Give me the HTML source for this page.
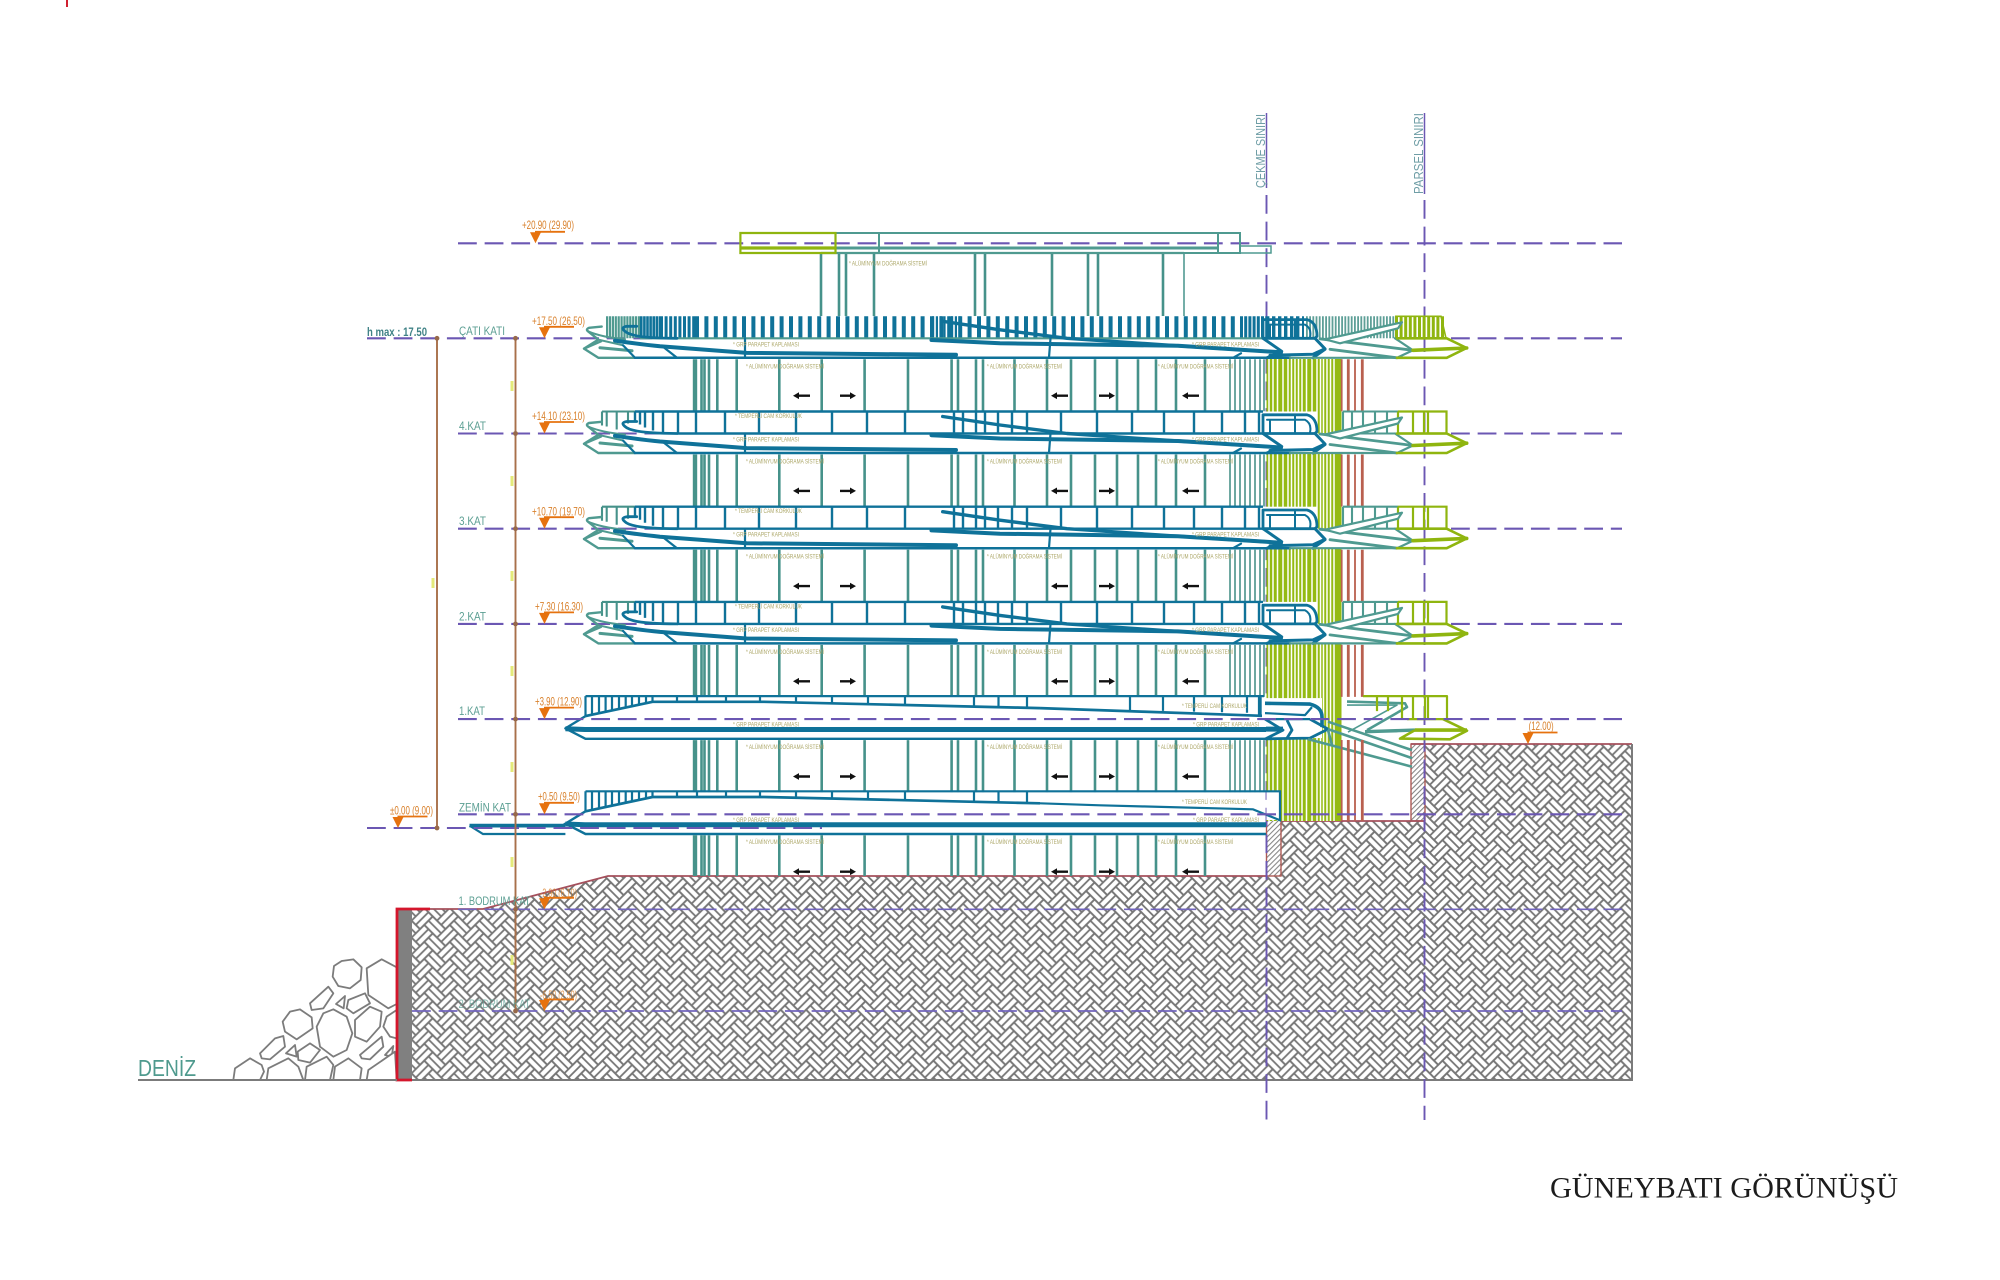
<!DOCTYPE html>
<html lang="tr">
<head>
<meta charset="utf-8">
<title>GÜNEYBATI GÖRÜNÜŞÜ</title>
<style>
html,body{margin:0;padding:0;background:#fff}
svg{display:block;filter:blur(.3px)}
text{font-family:"Liberation Sans",sans-serif}
.ttl{font-family:"Liberation Serif",serif;font-size:30px;fill:#1c1c1c}
.lv{font-size:12px;fill:#d9812c}
.fl{font-size:12px;fill:#5c9f93}
.nt{font-size:6px;fill:#aca768}
.dl{fill:none;stroke:#6b57b3;stroke-width:2.1;stroke-dasharray:18.8 7.84}
.dg{fill:none;stroke:#7265bd;stroke-width:1.7;stroke-dasharray:18.8 7.84}
</style>
</head>
<body>
<svg xmlns="http://www.w3.org/2000/svg" width="2000" height="1280" viewBox="0 0 2000 1280">
<defs>
  <g id="brick"><path d="M0 0H15V10H0ZM0 5H15M15 -5H25V10H15ZM20 -5V10" fill="none" stroke="#767676" stroke-width="1.5"/></g>
  <g id="brow">
    <use href="#brick" x="-30" y="30"/><use href="#brick" x="-15" y="15"/><use href="#brick" x="0" y="0"/><use href="#brick" x="15" y="-15"/><use href="#brick" x="30" y="-30"/>
  </g>
  <pattern id="hb" patternUnits="userSpaceOnUse" width="21.213" height="14.142" patternTransform="scale(1.2)">
    <rect width="21.3" height="14.2" fill="#fff"/>
    <g transform="rotate(45)">
      <use href="#brow" x="-20" y="-20"/><use href="#brow" x="-10" y="-10"/><use href="#brow" x="0" y="0"/><use href="#brow" x="10" y="10"/><use href="#brow" x="20" y="20"/>
    </g>
  </pattern>
  <pattern id="wd" patternUnits="userSpaceOnUse" width="3.6" height="3.6" patternTransform="rotate(-45)">
    <rect width="3.6" height="3.6" fill="#fff"/><path d="M0 1H3.6" stroke="#7d7d7d" stroke-width="1"/>
  </pattern>
  <clipPath id="lastc"><rect x="600" y="834" width="625" height="42"/></clipPath>

  <g id="tri"><path d="M539 -11H550L544.5 0Z" fill="#e6720e"/><path d="M544 -11.5H574" stroke="#e6720e" stroke-width="1.8"/></g>

  <g id="bars">
    <path d="M695 21v52" stroke="#46928a" stroke-width="4.4"/>
    <path d="M701.5 21v52M704.5 21v52M709 21v52M717.3 21v52M736.7 21v52M779.3 21v52M821.7 21v52M864.6 21v52M908 21v52M951.6 21v52M958 21v52M976 21v52M983 21v52M1014.5 21v52M1047 21v52M1071 21v52M1095 21v52M1117 21v52M1138 21v52M1156 21v52M1176 21v52M1205 21v52" stroke="#46928a" stroke-width="2.6" fill="none"/>
    <path d="M1230 21v52M1235 21v52M1240 21v52M1245 21v52M1250 21v52M1255 21v52M1260 21v52M1264 21v52" stroke="#5e9f97" stroke-width="1.8"/>
    <g transform="translate(0,57.4)" fill="#111">
      <path d="M793 0l6-3.4v2.2h11v2.4h-11v2.2z"/><path d="M856 0l-6-3.4v2.2h-10v2.4h10v2.2z"/>
      <path d="M1051 0l6-3.4v2.2h11v2.4h-11v2.2z"/><path d="M1115 0l-6-3.4v2.2h-10v2.4h10v2.2z"/>
      <path d="M1182 0l6-3.4v2.2h11v2.4h-11v2.2z"/>
    </g>
  </g>
  <g id="red"><path d="M1341.7 21v52M1355 21v52" stroke="#b9604f" stroke-width="1.8"/><path d="M1348.3 21v52M1362.3 21v52" stroke="#b9604f" stroke-width="2.8"/></g>

  <g id="rail" fill="none">
    <rect x="1263" y="-22" width="54" height="22" fill="#fff"/>
    <path d="M602 -22H635M602 -22V-8M606.7 -22V-7M616.7 -22V-4M628 -22V-10" stroke="#46928a" stroke-width="2.1"/>
    <path d="M635 -22H1263M677 0H1263" stroke="#0f7299" stroke-width="2.4"/>
    <path d="M635 -22V-12M640 -22V-9M645 -22V-6M653 -22V-3M663 -22V-1M678 -22V0M696 -22V0M725 -22V0M759 -22V0M796 -22V0M832 -22V0M867 -22V0M905 -22V0M954 -22V0M963 -22V0M976 -22V0M985 -22V0M998 -22V0M1012 -22V0M1027 -22V0M1061 -22V0M1097 -22V0M1132 -22V0M1164 -22V0M1194 -22V0M1222 -22V0M1245 -22V0M1259 -22V0" stroke="#0f7299" stroke-width="2.4"/>
    <path d="M1343 -22H1398M1343 0H1398M1343 -22V0M1352 -22V0M1363 -22V0M1375 -22V0M1387 -22V0" stroke="#4f9a90" stroke-width="2.1"/>
    <path d="M1398 -22H1446.5V0H1398M1398 -22V0M1413 -22V0M1424 -22V0M1428 -22V0" stroke="#8fb50f" stroke-width="2.2"/>
  </g>

  <g id="slab" fill="none" stroke-linejoin="round" stroke-linecap="round">
    <rect x="1263" y="0" width="82" height="19.5" fill="#fff" stroke="none"/>
    <path d="M601.7 -11.7L589 -10.5Q585.5 -9 588 -7L598.3 1.3L584 10.3L598.3 19.5H635M584 10.3L601 3" stroke="#4f9a90" stroke-width="2.4"/>
    <path d="M600 9.5L632 12.5" stroke="#4f9a90" stroke-width="3"/>
    <path d="M598.3 1.3L623 7M588 -7Q602 -1 625 1" stroke="#4f9a90" stroke-width="2"/>
    <path d="M636.7 -12L627 -12Q620 -11 625 -7Q632 0 677 0" stroke="#0f7299" stroke-width="2.8"/>
    <path d="M615 2.3Q640 6 660 8L746.7 14.6L956 16.5" stroke="#0f7299" stroke-width="4"/>
    <path d="M623 7L635 19.5M663 8.5L677 19.5M745 0V19.5" stroke="#0f7299" stroke-width="2.2"/>
    <path d="M635 19.5H1290" stroke="#0f7299" stroke-width="2.5"/>
    <path d="M942.7 -17L1000 -8.5L1067 0L1178 7.5L1281 14" stroke="#0f7299" stroke-width="3.4"/>
    <path d="M931.5 1.7L1000 5L1178 7.5L1281 14" stroke="#0f7299" stroke-width="4"/>
    <path d="M1050.5 0L1049 19M1233 19.5L1241 15" stroke="#0f7299" stroke-width="2.2"/>
    <path d="M1263 -18.7H1307Q1317 -16 1317 -2L1315 0H1263V-18.7" stroke="#0f7299" stroke-width="2.8"/>
    <path d="M1267 -13.7H1305Q1312 -10 1310 -1M1270 -13.7V0M1295 -18.7V0" stroke="#0f7299" stroke-width="2"/>
    <path d="M1263 0L1281.7 13L1267 19.5M1315 0L1325 10.5L1313 16L1270 17M1313 19.5L1325 11" stroke="#0f7299" stroke-width="3"/>
    <path d="M1320 0.5L1413 12M1330 11L1397 19.5" stroke="#4f9a90" stroke-width="2.8"/>
    <path d="M1325 1L1402 -16L1398 -10L1340 5Z" stroke="#4f9a90" stroke-width="2.2" fill="#fff"/>
    <path d="M1395 0L1413 12L1397 19.5M1290 19.5H1397" stroke="#4f9a90" stroke-width="2.2"/>
    <path d="M1413 12L1466.7 9.7" stroke="#8fb50f" stroke-width="3.6"/>
    <path d="M1397 0H1446.7L1466.7 9.7L1446.7 19.5H1397" stroke="#8fb50f" stroke-width="2.6"/>
  </g>

  <g id="bigrail" fill="none" stroke="#0f7299" stroke-width="2.2">
    <path d="M585.5 -23H1264"/>
    <path d="M585.5 -23V-3M592 -23V-4.4M599 -23V-5.9M605.6 -23V-7.3M612 -23V-8.7M619 -23V-10.1M625.7 -23V-11.6M632 -23V-12.9M639 -23V-14.4M646 -23V-15.9M652.5 -23V-17M677 -23V-17M697 -23V-17M726 -23V-17M760 -23V-17M796 -23V-16.6M832 -23V-15.8M868 -23V-15M905 -23V-14.2M974 -23V-12.6M998.5 -23V-12M1027 -23V-11.4"/>
    <path d="M585.5 -3L652.5 -17.3H764L1040 -11" stroke-width="2.7"/>
    <path d="M585.5 -3L565.4 9.3L585.5 19.7H1266" stroke-width="2.4"/>
    <path d="M565.4 9.7L585 10.4H1266" stroke-width="5"/>
  </g>
</defs>

<rect width="2000" height="1280" fill="#fff"/>
<path d="M67 0V7" stroke="#d02030" stroke-width="2"/>

<!-- rocks -->
<g transform="translate(120,880) scale(.33333)" fill="#fff" stroke="#7c7c7c" stroke-width="5.4" stroke-linejoin="round">
  <path d="M665 243L700 238L725 262L722 300L690 325L655 318L638 290L642 258Z"/>
  <path d="M740 265L785 238L830 262V372L805 385L745 345Z"/>
  <path d="M570 370L625 320L640 340L610 385L575 390Z"/>
  <path d="M648 372L675 348L671 385Z"/>
  <path d="M685 360L735 340L750 370L700 400L680 385Z"/>
  <path d="M510 395L540 388L575 412L578 445L530 478L495 455L488 425Z"/>
  <path d="M640 388L680 410L697 460L680 510L640 530L600 500L590 440L610 400Z"/>
  <path d="M705 420L750 380L785 395L780 440L740 485L705 470Z"/>
  <path d="M830 390L800 410L790 440L810 470L830 475"/>
  <path d="M420 520L465 475L490 468L495 500L450 538L425 535Z"/>
  <path d="M498 520L525 495L530 530Z"/>
  <path d="M533 515L570 490L600 510L570 548L535 540Z"/>
  <path d="M720 525L785 470L790 500L750 538L725 535Z"/>
  <path d="M795 525L820 498L815 530Z"/>
  <path d="M340 600L345 565L390 535L425 555L432 575L420 600"/>
  <path d="M440 600L445 565L505 535L535 560L550 600"/>
  <path d="M555 600L560 560L620 530L640 555L630 600"/>
  <path d="M640 600L645 560L685 535L725 565L720 600"/>
  <path d="M740 600L745 570L825 515L830 600"/>
</g>

<!-- ground -->
<path d="M412 909H483L608 876H1281V821H1425V744H1632V1080H412Z" fill="url(#hb)"/>
<rect x="1266.5" y="820" width="14.5" height="56" fill="url(#wd)" stroke="#ad5a55" stroke-width="1.4"/>
<rect x="1411" y="744" width="14" height="77" fill="url(#wd)" stroke="#ad5a55" stroke-width="1.4"/>
<path d="M430 909H483L608 876H1266M1281 821H1425M1411 744H1632" fill="none" stroke="#a5505c" stroke-width="1.8"/>
<rect x="398" y="909" width="14" height="171" fill="#808080"/>
<path d="M412 1080H397V909H430" fill="none" stroke="#d4162c" stroke-width="2.8"/>
<path d="M138 1080H397M412 1080H1632V744" fill="none" stroke="#7b7b7b" stroke-width="2"/>

<!-- dashed grid (behind) -->
<path class="dl" d="M458 243.3H1622"/>
<path class="dl" d="M367 338.3H670"/>
<path class="dl" d="M1451 338.3H1622"/>
<path class="dl" d="M458 433.5H670"/>
<path class="dl" d="M1451 433.5H1622"/>
<path class="dl" d="M458 528.7H670"/>
<path class="dl" d="M1451 528.7H1622"/>
<path class="dl" d="M458 623.9H670"/>
<path class="dl" d="M1451 623.9H1622"/>
<path d="M1266.5 113V188" stroke="#6b57b3" stroke-width="1.5" fill="none"/>
<path d="M1424.5 113V194" stroke="#6b57b3" stroke-width="1.5" fill="none"/>
<path d="M1266.5 195V1120" fill="none" stroke="#6b57b3" stroke-width="1.9" stroke-dasharray="18.8 7.84"/>
<path d="M1424.5 200V1120" fill="none" stroke="#6b57b3" stroke-width="1.9" stroke-dasharray="18.8 7.84"/>

<!-- lime strip -->
<rect x="1266.5" y="359" width="75" height="462" fill="#94ba12"/>
<path d="M1269 359V821M1273 359V821M1277.5 359V821M1283 359V821M1288 359V821M1291.5 359V821M1295 359V821M1298.5 359V821M1302 359V821M1306.5 359V821M1312 359V821M1317 359V821M1320.5 359V821M1323.5 359V821M1327 359V821M1330.5 359V821M1334 359V821" stroke="#fff" stroke-width="1.5"/>
<rect x="1266.5" y="791" width="14.5" height="29" fill="#fff"/>

<!-- penthouse / roof -->
<g fill="none">
  <path d="M821 253V316M839 253V316M846 253V316M874 253V316M975 253V316M985 253V316M1052 253V316M1088 253V316M1098 253V316M1163 253V316" stroke="#46928a" stroke-width="2.6"/>
  <path d="M1184 253V316" stroke="#46928a" stroke-width="1.5"/>
  <path d="M821 253H1184" stroke="#46928a" stroke-width="2.2"/>
  <path d="M835.5 233H1240V253H835.5M879 233V253M1218 233V253" stroke="#4f9a90" stroke-width="2"/>
  <path d="M835.5 248H1218" stroke="#4f9a90" stroke-width="3"/>
  <path d="M1240 246H1271V253H1240" stroke="#4f9a90" stroke-width="1.5"/>
  <path d="M740.4 233H835.5V253H740.4Z" stroke="#8fb50f" stroke-width="2.2"/>
  <path d="M740.4 248H835.5" stroke="#8fb50f" stroke-width="3.2"/>
</g>

<!-- çatı railing -->
<g transform="translate(0,338.3)" fill="none">
  <path d="M606 -11H640" stroke="#4f9a90" stroke-width="22" stroke-dasharray="2.2 .7"/>
  <path d="M640 -11H660" stroke="#0f7299" stroke-width="22" stroke-dasharray="2.6 .5"/>
  <path d="M660 -11H695" stroke="#0f7299" stroke-width="22" stroke-dasharray="3 1.6"/>
  <path d="M695 -11H1240" stroke="#0f7299" stroke-width="22" stroke-dasharray="4 5.4"/>
  <path d="M932 -11H962" stroke="#0f7299" stroke-width="22" stroke-dasharray="2.2 1.6"/>
  <path d="M1240 -11H1266" stroke="#0f7299" stroke-width="22" stroke-dasharray="3 1.2"/>
  <path d="M1266 -11H1304" stroke="#0f7299" stroke-width="22" stroke-dasharray="3.4 2.6"/>
  <path d="M1306 -11H1395" stroke="#5e9f97" stroke-width="22" stroke-dasharray="1.8 1.4"/>
  <path d="M1395 -11H1444" stroke="#8fb50f" stroke-width="22" stroke-dasharray="3 1.6"/>
  <path d="M1395 -22H1441L1446 0" stroke="#8fb50f" stroke-width="1.6"/>
  <path d="M640 0H1263" stroke="#4f9a90" stroke-width="2.2"/>
</g>
<use href="#slab" y="338.3"/>

<!-- floors -->
<use href="#bars" y="338.3"/><use href="#red" y="338.3"/>
<use href="#rail" y="433.5"/><use href="#slab" y="433.5"/>
<use href="#bars" y="433.5"/><use href="#red" y="433.5"/>
<use href="#rail" y="528.7"/><use href="#slab" y="528.7"/>
<use href="#bars" y="528.7"/><use href="#red" y="528.7"/>
<use href="#rail" y="623.9"/><use href="#slab" y="623.9"/>
<use href="#bars" y="623.9"/><use href="#red" y="623.9"/>

<!-- 1.KAT -->
<g transform="translate(0,719.1)" fill="none" stroke-linejoin="round">
  <rect x="1264" y="-21" width="58" height="40" fill="#fff"/>
  <use href="#bigrail"/>
  <path d="M1130 -23V-9M1163 -23V-8.2M1194 -23V-7.5M1222 -23V-6.9M1247 -23V-6.3M1259 -23V-4" stroke="#0f7299" stroke-width="2.2"/>
  <path d="M1040 -11L1262 -3.3" stroke="#0f7299" stroke-width="2.7"/>
  <path d="M1266 10H1283" stroke="#0f7299" stroke-width="5"/>
  <path d="M1260 -22V-2" stroke="#0f7299" stroke-width="3.4"/>
  <path d="M1265 -15.8L1310 -15Q1322 -12 1322 -2V8" stroke="#0f7299" stroke-width="3.6"/>
  <path d="M1265 -6L1305 -4L1312 -12M1265 0H1310" stroke="#0f7299" stroke-width="2.2"/>
  <path d="M1265 0L1283 11L1265 20M1287 1L1292 11L1287 19M1310 0L1328 10L1310 19L1266 19.7" stroke="#0f7299" stroke-width="2.8"/>
  <path d="M1328 2.6L1412 31M1328 10L1412 39M1308 20L1412 47.6M1328 11L1332 26" stroke="#4f9a90" stroke-width="2.6"/>
  <path d="M1347 -17.5L1405 -15.8L1407 -12L1367 11" stroke="#4f9a90" stroke-width="2.6"/>
  <path d="M1347 -14H1397L1348 13" stroke="#4f9a90" stroke-width="1.6"/>
  <path d="M1365 12.6L1415 11" stroke="#4f9a90" stroke-width="3.4"/>
  <path d="M1363 -23H1447V0H1407M1377 -23V-8M1388 -23V-8M1402 -23V0M1413 -23V0M1425 -23V0M1428 -23V0" stroke="#8fb50f" stroke-width="2.2"/>
  <path d="M1443 0L1467 11.6L1450 20.2L1400 19.5L1415 11" stroke="#8fb50f" stroke-width="2.6"/>
  <path d="M1415 11L1467 11" stroke="#8fb50f" stroke-width="3.6"/>
</g>
<use href="#bars" y="719.1"/>
<path d="M1341.7 740V821M1355 740V821" stroke="#b9604f" stroke-width="1.8"/>
<path d="M1348.3 740V821M1362.3 740V821" stroke="#b9604f" stroke-width="2.8"/>

<!-- ZEMİN -->
<g transform="translate(0,814.3)" fill="none">
  <use href="#bigrail"/>
  <path d="M1040 -11L1100 -9L1253 -5L1280 6V-23H1264" stroke="#0f7299" stroke-width="2.2"/>
  <path d="M469.5 11.3H565.4" stroke="#0f7299" stroke-width="3.8"/>
  <path d="M469.5 11.3L483 19.7H565.4" stroke="#0f7299" stroke-width="2.2"/>
</g>
<g clip-path="url(#lastc)"><use href="#bars" y="814.3"/></g>

<!-- dashed grid (front) -->
<path class="dl" d="M458 719.1H1622"/>
<path class="dl" d="M458 814.3H1622"/>
<path class="dl" d="M367 828H822"/>
<path class="dg" d="M458 909.3H1622"/>
<path class="dg" d="M412 1011H1622"/>

<!-- dims -->
<path d="M437 338V828M515.5 338V1011" stroke="#a8704a" stroke-width="1.9" fill="none"/>
<g fill="#97694a">
  <circle cx="437" cy="338.3" r="2.4"/><circle cx="437" cy="828" r="2.4"/>
  <circle cx="515.5" cy="338.3" r="2.4"/><circle cx="515.5" cy="433.5" r="2.4"/><circle cx="515.5" cy="528.7" r="2.4"/><circle cx="515.5" cy="623.9" r="2.4"/><circle cx="515.5" cy="719.1" r="2.4"/><circle cx="515.5" cy="814.3" r="2.4"/><circle cx="515.5" cy="909.3" r="2.4"/><circle cx="515.5" cy="1011" r="2.4"/>
</g>
<path d="M512 381V391M512 476V486M512 571V581M512 666V676M512 762V772M512 857V867M512 955V965M433 578V588" stroke="#e4ea7a" stroke-width="3"/>

<!-- level markers -->
<use href="#tri" x="-9" y="243.3"/>
<use href="#tri" y="338.3"/>
<use href="#tri" y="433.5"/>
<use href="#tri" y="528.7"/>
<use href="#tri" y="623.9"/>
<use href="#tri" y="719.1"/>
<use href="#tri" y="814.3"/>
<use href="#tri" x="-146.5" y="828"/>
<use href="#tri" y="909.3"/>
<use href="#tri" y="1011"/>
<use href="#tri" x="983.5" y="744"/>

<g class="lv">
  <text class="lv" x="522" y="229" textLength="52" lengthAdjust="spacingAndGlyphs">+20.90 (29.90)</text>
  <text class="lv" x="532" y="325" textLength="53" lengthAdjust="spacingAndGlyphs">+17.50 (26.50)</text>
  <text class="lv" x="532" y="420.2" textLength="53" lengthAdjust="spacingAndGlyphs">+14.10 (23.10)</text>
  <text class="lv" x="532" y="515.4" textLength="53" lengthAdjust="spacingAndGlyphs">+10.70 (19.70)</text>
  <text class="lv" x="535" y="610.6" textLength="48" lengthAdjust="spacingAndGlyphs">+7.30 (16.30)</text>
  <text class="lv" x="535" y="705.5" textLength="47" lengthAdjust="spacingAndGlyphs">+3.90 (12.90)</text>
  <text class="lv" x="538" y="800.5" textLength="42" lengthAdjust="spacingAndGlyphs">+0.50 (9.50)</text>
  <text class="lv" x="390" y="814.7" textLength="43" lengthAdjust="spacingAndGlyphs">±0.00 (9.00)</text>
  <text class="lv" x="540" y="897" textLength="37" lengthAdjust="spacingAndGlyphs" opacity=".8">-2.90 (6.10)</text>
  <text class="lv" x="540" y="999" textLength="37" lengthAdjust="spacingAndGlyphs" opacity=".8">-6.50 (2.50)</text>
  <text class="lv" x="1528.6" y="730" textLength="25" lengthAdjust="spacingAndGlyphs">(12.00)</text>
</g>
<text x="367" y="336" font-size="11.5" font-weight="bold" fill="#3f8286" textLength="60" lengthAdjust="spacingAndGlyphs">h max : 17.50</text>
<text class="fl" x="459" y="335" textLength="46" lengthAdjust="spacingAndGlyphs">ÇATI KATI</text>
<text class="fl" x="459" y="430" textLength="27" lengthAdjust="spacingAndGlyphs">4.KAT</text>
<text class="fl" x="459" y="525" textLength="27" lengthAdjust="spacingAndGlyphs">3.KAT</text>
<text class="fl" x="459" y="620.4" textLength="27" lengthAdjust="spacingAndGlyphs">2.KAT</text>
<text class="fl" x="459" y="715" textLength="26" lengthAdjust="spacingAndGlyphs">1.KAT</text>
<text class="fl" x="459" y="811.7" textLength="52" lengthAdjust="spacingAndGlyphs">ZEMİN KAT</text>
<text class="fl" x="458.5" y="905" textLength="72" lengthAdjust="spacingAndGlyphs">1. BODRUM KAT</text>
<text class="fl" x="458.5" y="1008" textLength="72" lengthAdjust="spacingAndGlyphs" opacity=".75">2. BODRUM KAT</text>
<text x="138" y="1076" font-size="23" fill="#4f9a8e" textLength="58" lengthAdjust="spacingAndGlyphs">DENİZ</text>

<text transform="translate(1265,188) rotate(-90)" font-size="13" fill="#6f9ea6" textLength="74" lengthAdjust="spacingAndGlyphs">ÇEKME SINIRI</text>
<text transform="translate(1423,194) rotate(-90)" font-size="13" fill="#6f9ea6" textLength="81" lengthAdjust="spacingAndGlyphs">PARSEL SINIRI</text>

<!-- notes -->
<text class="nt" x="849" y="265.7" textLength="78" lengthAdjust="spacingAndGlyphs">* ALÜMİNYUM DOĞRAMA SİSTEMİ</text>

<text class="nt" x="733" y="346.3" textLength="66" lengthAdjust="spacingAndGlyphs">* GRP PARAPET KAPLAMASI</text>
<text class="nt" x="1192" y="346.3" textLength="67" lengthAdjust="spacingAndGlyphs">* GRP PARAPET KAPLAMASI</text>
<text class="nt" x="746" y="368.3" textLength="78" lengthAdjust="spacingAndGlyphs">* ALÜMİNYUM DOĞRAMA SİSTEMİ</text>
<text class="nt" x="987" y="368.3" textLength="75" lengthAdjust="spacingAndGlyphs">* ALÜMİNYUM DOĞRAMA SİSTEMİ</text>
<text class="nt" x="1158" y="368.3" textLength="75" lengthAdjust="spacingAndGlyphs">* ALÜMİNYUM DOĞRAMA SİSTEMİ</text>

<text class="nt" x="735" y="418" textLength="67" lengthAdjust="spacingAndGlyphs">* TEMPERLİ CAM KORKULUK</text>
<text class="nt" x="733" y="441.5" textLength="66" lengthAdjust="spacingAndGlyphs">* GRP PARAPET KAPLAMASI</text>
<text class="nt" x="1192" y="441.5" textLength="67" lengthAdjust="spacingAndGlyphs">* GRP PARAPET KAPLAMASI</text>
<text class="nt" x="746" y="463.5" textLength="78" lengthAdjust="spacingAndGlyphs">* ALÜMİNYUM DOĞRAMA SİSTEMİ</text>
<text class="nt" x="987" y="463.5" textLength="75" lengthAdjust="spacingAndGlyphs">* ALÜMİNYUM DOĞRAMA SİSTEMİ</text>
<text class="nt" x="1158" y="463.5" textLength="75" lengthAdjust="spacingAndGlyphs">* ALÜMİNYUM DOĞRAMA SİSTEMİ</text>

<text class="nt" x="735" y="513.2" textLength="67" lengthAdjust="spacingAndGlyphs">* TEMPERLİ CAM KORKULUK</text>
<text class="nt" x="733" y="536.7" textLength="66" lengthAdjust="spacingAndGlyphs">* GRP PARAPET KAPLAMASI</text>
<text class="nt" x="1192" y="536.7" textLength="67" lengthAdjust="spacingAndGlyphs">* GRP PARAPET KAPLAMASI</text>
<text class="nt" x="746" y="558.7" textLength="78" lengthAdjust="spacingAndGlyphs">* ALÜMİNYUM DOĞRAMA SİSTEMİ</text>
<text class="nt" x="987" y="558.7" textLength="75" lengthAdjust="spacingAndGlyphs">* ALÜMİNYUM DOĞRAMA SİSTEMİ</text>
<text class="nt" x="1158" y="558.7" textLength="75" lengthAdjust="spacingAndGlyphs">* ALÜMİNYUM DOĞRAMA SİSTEMİ</text>

<text class="nt" x="735" y="608.4" textLength="67" lengthAdjust="spacingAndGlyphs">* TEMPERLİ CAM KORKULUK</text>
<text class="nt" x="733" y="631.9" textLength="66" lengthAdjust="spacingAndGlyphs">* GRP PARAPET KAPLAMASI</text>
<text class="nt" x="1192" y="631.9" textLength="67" lengthAdjust="spacingAndGlyphs">* GRP PARAPET KAPLAMASI</text>
<text class="nt" x="746" y="653.9" textLength="78" lengthAdjust="spacingAndGlyphs">* ALÜMİNYUM DOĞRAMA SİSTEMİ</text>
<text class="nt" x="987" y="653.9" textLength="75" lengthAdjust="spacingAndGlyphs">* ALÜMİNYUM DOĞRAMA SİSTEMİ</text>
<text class="nt" x="1158" y="653.9" textLength="75" lengthAdjust="spacingAndGlyphs">* ALÜMİNYUM DOĞRAMA SİSTEMİ</text>

<text class="nt" x="1182" y="708" textLength="65" lengthAdjust="spacingAndGlyphs">* TEMPERLİ CAM KORKULUK</text>
<text class="nt" x="733" y="726.7" textLength="66" lengthAdjust="spacingAndGlyphs">* GRP PARAPET KAPLAMASI</text>
<text class="nt" x="1193" y="726.7" textLength="66" lengthAdjust="spacingAndGlyphs">* GRP PARAPET KAPLAMASI</text>
<text class="nt" x="746" y="749" textLength="78" lengthAdjust="spacingAndGlyphs">* ALÜMİNYUM DOĞRAMA SİSTEMİ</text>
<text class="nt" x="987" y="749" textLength="75" lengthAdjust="spacingAndGlyphs">* ALÜMİNYUM DOĞRAMA SİSTEMİ</text>
<text class="nt" x="1158" y="749" textLength="75" lengthAdjust="spacingAndGlyphs">* ALÜMİNYUM DOĞRAMA SİSTEMİ</text>

<text class="nt" x="1182" y="804" textLength="65" lengthAdjust="spacingAndGlyphs">* TEMPERLİ CAM KORKULUK</text>
<text class="nt" x="733" y="822" textLength="66" lengthAdjust="spacingAndGlyphs">* GRP PARAPET KAPLAMASI</text>
<text class="nt" x="1193" y="822" textLength="66" lengthAdjust="spacingAndGlyphs">* GRP PARAPET KAPLAMASI</text>
<text class="nt" x="746" y="844" textLength="78" lengthAdjust="spacingAndGlyphs">* ALÜMİNYUM DOĞRAMA SİSTEMİ</text>
<text class="nt" x="987" y="844" textLength="75" lengthAdjust="spacingAndGlyphs">* ALÜMİNYUM DOĞRAMA SİSTEMİ</text>
<text class="nt" x="1158" y="844" textLength="75" lengthAdjust="spacingAndGlyphs">* ALÜMİNYUM DOĞRAMA SİSTEMİ</text>

<text class="ttl" x="1550" y="1197.7" textLength="348" lengthAdjust="spacingAndGlyphs">GÜNEYBATI GÖRÜNÜŞÜ</text>
</svg>
</body>
</html>
